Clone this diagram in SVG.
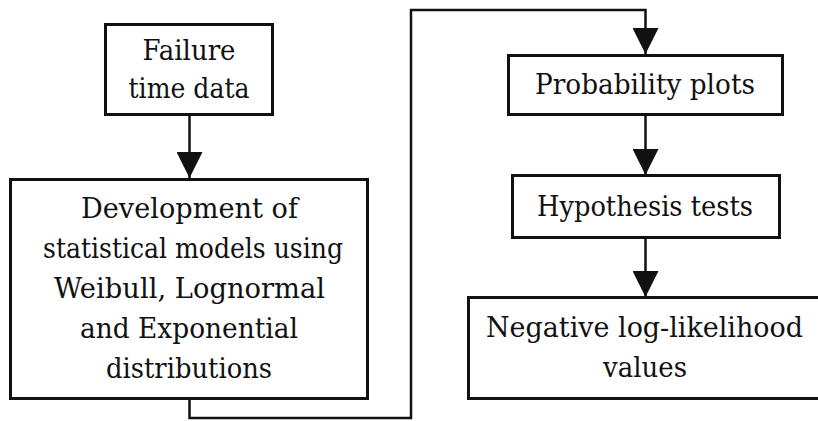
<svg xmlns="http://www.w3.org/2000/svg" width="818" height="421" viewBox="0 0 818 421">
<style>
.box{fill:#fff;stroke:#111;stroke-width:3}
.ln{fill:none;stroke:#111;stroke-width:2.5}
.t{font-family:'DejaVu Serif','Liberation Serif',serif;font-size:27px;fill:#111;text-anchor:middle}
</style>
<defs>
<marker id="ah" markerUnits="userSpaceOnUse" markerWidth="26" markerHeight="26" viewBox="0 0 26 26" refX="26" refY="13" orient="auto">
<path d="M0,0 L26,13 L0,26 Z" fill="#111"/>
</marker>
</defs>
<rect width="818" height="421" fill="#fff"/>
<g id="connectors">
<path class="ln" d="M189.5,114 V178" marker-end="url(#ah)"/>
<path class="ln" d="M189.5,399 V418 H411 V10 H645.5 V54" marker-end="url(#ah)"/>
<path class="ln" d="M645.5,115 V175" marker-end="url(#ah)"/>
<path class="ln" d="M645.5,238 V297" marker-end="url(#ah)"/>
</g>
<g id="failure">
<rect class="box" x="105.5" y="24.5" width="167" height="90"/>
<text class="t" x="189" y="60" textLength="93" lengthAdjust="spacingAndGlyphs">Failure</text>
<text class="t" x="189" y="98" textLength="121" lengthAdjust="spacingAndGlyphs">time data</text>
</g>
<g id="development">
<rect class="box" x="10.5" y="179.5" width="357" height="219"/>
<text class="t" x="189.5" y="218" textLength="217" lengthAdjust="spacingAndGlyphs">Development of</text>
<text class="t" x="193" y="258" textLength="300" lengthAdjust="spacingAndGlyphs">statistical models using</text>
<text class="t" x="189.5" y="298" textLength="271" lengthAdjust="spacingAndGlyphs">Weibull, Lognormal</text>
<text class="t" x="189" y="338" textLength="218" lengthAdjust="spacingAndGlyphs">and Exponential</text>
<text class="t" x="189" y="378" textLength="166" lengthAdjust="spacingAndGlyphs">distributions</text>
</g>
<g id="probability">
<rect class="box" x="508.5" y="55.5" width="274" height="59"/>
<text class="t" x="645" y="94" textLength="220" lengthAdjust="spacingAndGlyphs">Probability plots</text>
</g>
<g id="hypothesis">
<rect class="box" x="512.5" y="175.5" width="267" height="62"/>
<text class="t" x="645" y="216" textLength="216" lengthAdjust="spacingAndGlyphs">Hypothesis tests</text>
</g>
<g id="negative">
<rect class="box" x="468.5" y="297.5" width="355" height="101"/>
<text class="t" x="644.5" y="337" textLength="317" lengthAdjust="spacingAndGlyphs">Negative log-likelihood</text>
<text class="t" x="645" y="377" textLength="84" lengthAdjust="spacingAndGlyphs">values</text>
</g>
</svg>
